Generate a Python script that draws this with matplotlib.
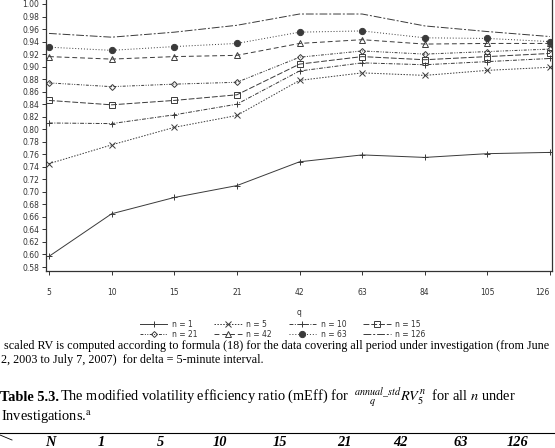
import matplotlib
matplotlib.use("Agg")
import matplotlib.pyplot as plt
from matplotlib.lines import Line2D

q_labels = ["5", "10", "15", "21", "42", "63", "84", "105", "126"]
n1   = [0.597, 0.665, 0.691, 0.710, 0.748, 0.759, 0.755, 0.761, 0.763]
n5   = [0.745, 0.775, 0.803, 0.822, 0.878, 0.890, 0.886, 0.894, 0.899]
n10  = [0.810, 0.809, 0.823, 0.840, 0.893, 0.906, 0.903, 0.908, 0.913]
n15  = [0.846, 0.839, 0.846, 0.855, 0.904, 0.916, 0.911, 0.916, 0.921]
n21  = [0.874, 0.868, 0.872, 0.875, 0.915, 0.925, 0.920, 0.924, 0.928]
n42  = [0.916, 0.912, 0.916, 0.918, 0.937, 0.943, 0.936, 0.937, 0.937]
n63  = [0.931, 0.926, 0.932, 0.937, 0.955, 0.957, 0.946, 0.945, 0.940]
n126 = [0.953, 0.947, 0.955, 0.966, 0.984, 0.984, 0.965, 0.956, 0.948]
y_ticks = [0.58 + 0.02 * i for i in range(22)]

W, H = 555, 448
plt.rcParams["mathtext.fontset"] = "stix"
fig = plt.figure(figsize=(W / 100, H / 100), dpi=100)
L, R, B, T = 46, 552, 271, 0
ax = fig.add_axes([L / W, 1 - B / H, (R - L) / W, (B - T) / H])

col = "#3a3a3a"
lw = 0.7
series = [
    ("n = 1", n1, dict(linestyle="-", marker="+", ms=5, mfc="none")),
    ("n = 5", n5, dict(dashes=(1.5, 1.5), marker="x", ms=4, mfc="none")),
    ("n = 10", n10, dict(dashes=(4, 1.5, 1, 1.5), marker="+", ms=5, mfc="none")),
    ("n = 15", n15, dict(dashes=(6, 2), marker="s", ms=4, mfc="none")),
    ("n = 21", n21, dict(dashes=(3, 1.5, 1, 1.5, 1, 1.5), marker="D", ms=3, mfc="none")),
    ("n = 42", n42, dict(dashes=(5, 3), marker="^", ms=4, mfc="none")),
    ("n = 63", n63, dict(dashes=(1, 2), marker="o", ms=4.5, mfc=col)),
    ("n = 126", n126, dict(dashes=(8, 2, 2, 2), marker=None)),
]
x = list(range(len(q_labels)))
handles = {}
for lab, vals, st in series:
    h, = ax.plot(x, vals, color=col, lw=lw, mec=col, mew=0.7, label=lab, **st)
    handles[lab] = h

ax.set_xlim(-3 / 62.6, 8 + 2 / 62.6)
ax.set_ylim(0.58 - 4 * 0.02 / 12.54, 1.00 + 4 * 0.02 / 12.54)
ax.set_xticks(x)
ax.set_xticklabels(q_labels)
ax.set_yticks(y_ticks)
ax.set_yticklabels([f"{v:.2f}" for v in y_ticks])
ax.tick_params(direction="out", length=3, width=0.7, labelsize=5.5,
               colors="#333333", pad=2)
ax.tick_params(axis="x", pad=9)
ax.get_xticklabels()[-1].set_horizontalalignment("right")
for s in ["left", "bottom", "right"]:
    ax.spines[s].set_linewidth(0.9)
    ax.spines[s].set_color("#333333")
ax.spines["top"].set_visible(False)
ax.set_xlabel("q", fontsize=5.5, color="#333333", labelpad=8)

order = ["n = 1", "n = 21", "n = 5", "n = 42", "n = 10", "n = 63", "n = 15", "n = 126"]
leg = fig.legend([handles[o] for o in order], order, ncol=4, loc="upper left",
                 bbox_to_anchor=(136 / W, 1 - 316 / H), frameon=False,
                 fontsize=5.5, handlelength=3.6, columnspacing=2.2,
                 handletextpad=0.6, labelspacing=0.1, borderpad=0.0)
for t in leg.get_texts():
    t.set_color("#333333")

serif = "Liberation Serif"
fig.text(1 / W, 1 - 349 / H,
         " scaled RV is computed according to formula (18) for the data covering all period under investigation (from June",
         family=serif, fontsize=8.7, va="baseline", ha="left")
fig.text(1 / W, 1 - 363 / H,
         "2, 2003 to July 7, 2007)  for delta = 5-minute interval.",
         family=serif, fontsize=8.7, va="baseline", ha="left")

fig.text(0 / W, 1 - 401 / H, "Table 5.3.", family=serif, fontsize=10.4,
         weight="bold", va="baseline")
fig.text(60 / W, 1 - 401 / H,
         r"The modified volatility efficiency ratio (mEff) for  ${}^{annual\_std}_{\quad\quad q}RV_5^n$  for all $n$ under",
         family=serif, fontsize=10.4, va="baseline")
fig.text(1 / W, 1 - 420 / H, r"Investigations.$^{\rm a}$", family=serif,
         fontsize=10.4, va="baseline")
fig.add_artist(Line2D([0, 1], [1 - 433 / H, 1 - 433 / H], color="black", lw=0.8))
fig.add_artist(Line2D([0, 12 / W], [1 - 435 / H, 1 - 440 / H], color="black", lw=0.6))
hdr = ["N", "1", "5", "10", "15", "21", "42", "63", "126"]
hx = [45, 98, 157, 213, 273, 337, 393, 453, 507]
for s, xx in zip(hdr, hx):
    fig.text(xx / W, 1 - 446 / H, s, family=serif, fontsize=10.4, weight="bold",
             style="italic", va="baseline")

fig.savefig("out.png", dpi=100)
